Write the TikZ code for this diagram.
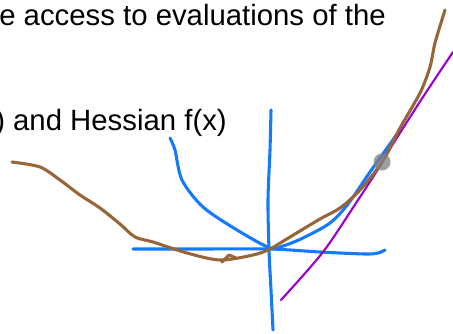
\documentclass[tikz,border=0pt]{standalone}
\usepackage{fontspec}
\setmainfont{Liberation Sans}
\definecolor{penblue}{RGB}{20,122,250}
\definecolor{penbrown}{RGB}{150,102,56}
\definecolor{penpurple}{RGB}{155,0,205}
\usetikzlibrary{positioning}

\begin{document}
\begin{tikzpicture}[
  x=0.75pt, y=-0.75pt,
  txt/.style={anchor=base west, inner sep=0pt, font=\fontsize{22pt}{26pt}\selectfont},
  ink/.style={line width=2.3pt, line cap=round, line join=round},
  axis/.style={ink, penblue},
  fcurve/.style={ink, penbrown},
  model/.style={ink, penblue},
  tangent/.style={line width=1.6pt, line cap=round, penpurple}
]
  \useasboundingbox[fill=white] (0,0) rectangle (453,333);

  % slide text
  \node[txt] (line1) at (-1,25) {e access to evaluations of the};
  \node[txt] (line2) at (-5,130) {) and Hessian f(x)};

  % axes
  \draw[axis] plot[smooth] coordinates {(271,110) (270,150) (268,200) (269,250) (271,290) (273,330)};
  \draw[axis] plot[smooth] coordinates {(133,249) (200,249) (270,249) (320,252) (365,254) (378,253) (385,250)};

  % quadratic model
  \draw[model] plot[smooth] coordinates {(170,138) (175,150) (182,180) (203,207) (237,230) (270,248) (283,246) (303,238) (330,223) (348,204) (370,172) (400,130)};

  % tangent line
  \draw[tangent] plot[smooth] coordinates {(281,300) (323,252) (358,200) (382,163) (393,144) (423,97) (453,52)};

  % function
  \draw[fcurve] plot[smooth] coordinates {(12,162) (40,167) (60,180) (80,195) (100,208) (120,224) (135,237) (153,242) (187,253) (220,260) (253,255) (270,249) (290,237) (320,219) (340,208) (360,190) (382,162) (400,128) (420,93) (430,67) (435,43) (445,10)};
  \draw[fcurve] (222,262) -- (229,255) -- (236,258);

  % current point
  \fill[gray, opacity=0.75] (382,162) circle (8.5);
\end{tikzpicture}
\end{document}
